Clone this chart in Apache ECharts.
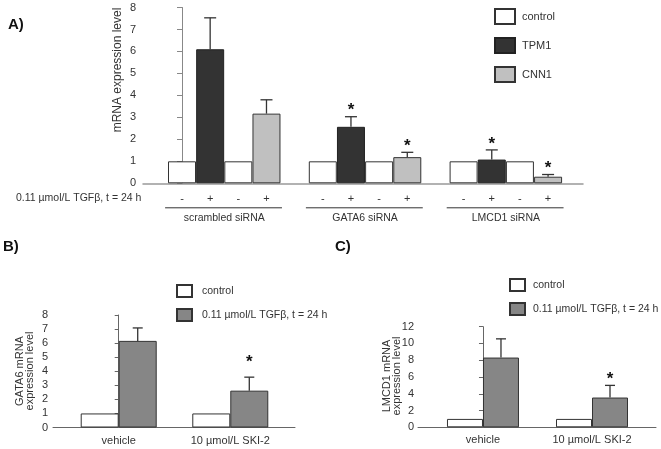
<!DOCTYPE html>
<html><head><meta charset="utf-8">
<script src="https://cdn.jsdelivr.net/npm/echarts@6/dist/echarts.min.js"></script>
<style>html,body{margin:0;padding:0;background:#fff}#c{width:661px;height:449px}</style>
</head><body><div id="c"></div>
<script>
// ---------- Panel A data ----------
const slotsControlA = [0, 2, 5, 7, 10, 12];
const controlA = [1, 1, 1, 1, 1, 1];
const slotsTpm1A = [1, 6, 11];
const tpm1A = [6.1, 2.57, 1.08];
const tpm1ErrTopA = [7.53, 3.03, 1.52];
const tpm1SigA = [0, 1, 1];
const slotsCnn1A = [3, 8, 13];
const cnn1A = [3.17, 1.19, 0.3];
const cnn1ErrTopA = [3.8, 1.41, 0.4];
const cnn1SigA = [0, 1, 1];
const tgfSlotsA = [0, 1, 2, 3, 5, 6, 7, 8, 10, 11, 12, 13];
const tgfLabelsA = ['-', '+', '-', '+', '-', '+', '-', '+', '-', '+', '-', '+'];
const groupCentersA = [1.5, 6.5, 11.5];
const groupNamesA = ['scrambled siRNA', 'GATA6 siRNA', 'LMCD1 siRNA'];
const groupSpansA = [[-0.6, 3.55], [4.4, 8.55], [9.4, 13.55]];
const legendA = ['control', 'TPM1', 'CNN1'];

// ---------- Panels B and C data ----------
const groupsBC = ['vehicle', '10 µmol/L SKI-2'];
const tgfName = '0.11 µmol/L TGFβ, t = 24 h';
const controlB = [1, 1];
const tgfB = [6.16, 2.62];
const tgfErrTopB = [7.08, 3.58];
const sigB = [0, 1];
const controlC = [1, 1];
const tgfC = [8.32, 3.55];
const tgfErrTopC = [10.55, 5.0];
const sigC = [0, 1];

const FONT = '"Liberation Sans", Arial, sans-serif';
const TXT = '#333';

function errRender(offsetPx, cap, starGap) {
  return function (params, api) {
    const x = api.value(0), v = api.value(1), e = api.value(2), sig = api.value(3);
    const p1 = api.coord([x, v]), p2 = api.coord([x, e]);
    const cx = p1[0] + offsetPx;
    const ch = [
      {type: 'line', shape: {x1: cx, y1: p1[1], x2: cx, y2: p2[1]}, style: {stroke: '#333', lineWidth: 1.3}},
      {type: 'line', shape: {x1: cx - cap / 2, y1: p2[1], x2: cx + cap / 2, y2: p2[1]}, style: {stroke: '#333', lineWidth: 1.3}}
    ];
    if (sig) {
      ch.push({type: 'text', x: cx, y: p2[1] - starGap + 4,
        style: {text: '*', fill: '#111', font: 'bold 17px ' + FONT, textAlign: 'center', textVerticalAlign: 'middle'}});
    }
    return {type: 'group', children: ch};
  };
}

const chart = echarts.init(document.getElementById('c'), null, {renderer: 'canvas'});

const option = {
  animation: false,
  textStyle: {fontFamily: FONT},
  grid: [
    {left: 143, right: 78, top: 7.5, bottom: 265.7},
    {left: 53, right: 366, top: 315, bottom: 21.5},
    {left: 418, right: 5, top: 326.7, bottom: 21.7}
  ],
  legend: [
    {data: legendA, orient: 'vertical', left: 494, top: 8, padding: 0, itemWidth: 20, itemHeight: 15, itemGap: 12,
     selectedMode: false, icon: 'rect', textStyle: {fontSize: 11, color: TXT, fontFamily: FONT, padding: [0, 0, 0, 2]}},
    {data: ['control', tgfName], orient: 'vertical', left: 176, top: 284, padding: 0, itemWidth: 15, itemHeight: 12, itemGap: 10,
     selectedMode: false, icon: 'rect', textStyle: {fontSize: 10.5, color: TXT, fontFamily: FONT, padding: [0, 0, 0, 5]}},
    {data: ['control', tgfName], orient: 'vertical', left: 509, top: 278, padding: 0, itemWidth: 15, itemHeight: 12, itemGap: 10,
     selectedMode: false, icon: 'rect', textStyle: {fontSize: 10.5, color: TXT, fontFamily: FONT, padding: [0, 0, 0, 3]}}
  ],
  xAxis: [
    {gridIndex: 0, type: 'value', min: -1.385, max: 14.24,
     axisLine: {show: true, lineStyle: {color: '#999', width: 1.5}}, axisTick: {show: false}, splitLine: {show: false},
     axisLabel: {customValues: tgfSlotsA, margin: 10, fontSize: 11, color: TXT,
       formatter: v => tgfLabelsA[tgfSlotsA.indexOf(Math.round(v))] || ''}},
    {gridIndex: 0, type: 'value', min: -1.385, max: 14.24, position: 'bottom',
     axisLine: {show: false}, axisTick: {show: false}, splitLine: {show: false},
     axisLabel: {customValues: groupCentersA, margin: 29, fontSize: 10.5, color: TXT,
       formatter: v => groupNamesA[groupCentersA.indexOf(v)] || ''}},
    {gridIndex: 1, type: 'value', min: -0.589, max: 1.58,
     axisLine: {show: true, lineStyle: {color: '#666', width: 1}}, axisTick: {show: false}, splitLine: {show: false},
     axisLabel: {customValues: [0, 1], margin: 8, fontSize: 11, color: TXT,
       formatter: v => groupsBC[Math.round(v)] || ''}},
    {gridIndex: 2, type: 'value', min: -0.596, max: 1.587,
     axisLine: {show: true, lineStyle: {color: '#666', width: 1}}, axisTick: {show: false}, splitLine: {show: false},
     axisLabel: {customValues: [0, 1], margin: 7, fontSize: 11, color: TXT,
       formatter: v => groupsBC[Math.round(v)] || ''}}
  ],
  yAxis: [
    {gridIndex: 0, type: 'value', min: 0, max: 8, interval: 1,
     axisLine: {show: true, lineStyle: {color: '#888'}}, axisTick: {show: true, length: 5, lineStyle: {color: '#888'}},
     splitLine: {show: false}, axisLabel: {margin: 7, fontSize: 11, color: TXT}},
    {gridIndex: 1, type: 'value', min: 0, max: 8, interval: 1,
     axisLine: {show: true, lineStyle: {color: '#666'}}, axisTick: {show: true, length: 4, lineStyle: {color: '#666'}},
     splitLine: {show: false}, axisLabel: {margin: 5, fontSize: 11, color: TXT}},
    {gridIndex: 2, type: 'value', min: 0, max: 12, interval: 2,
     axisLine: {show: true, lineStyle: {color: '#666'}}, axisTick: {show: true, length: 4, lineStyle: {color: '#666'}},
     splitLine: {show: false}, axisLabel: {margin: 4, fontSize: 11, color: TXT}}
  ],
  graphic: [
    {type: 'text', x: 8, y: 25, style: {text: 'A)', font: 'bold 15px ' + FONT, fill: '#111', textVerticalAlign: 'middle'}},
    {type: 'text', x: 3, y: 247, style: {text: 'B)', font: 'bold 15px ' + FONT, fill: '#111', textVerticalAlign: 'middle'}},
    {type: 'text', x: 335, y: 247, style: {text: 'C)', font: 'bold 15px ' + FONT, fill: '#111', textVerticalAlign: 'middle'}},
    {type: 'text', x: 16, y: 198, style: {text: tgfName, font: '10.5px ' + FONT, fill: TXT, textVerticalAlign: 'middle'}},
    {type: 'text', x: 118, y: 70, rotation: Math.PI / 2,
     style: {text: 'mRNA expression level', font: '12px ' + FONT, fill: TXT, textAlign: 'center', textVerticalAlign: 'middle'}},
    {type: 'text', x: 25, y: 371, rotation: Math.PI / 2,
     style: {text: 'GATA6 mRNA\nexpression level', font: '11px ' + FONT, lineHeight: 10, fill: TXT, textAlign: 'center', textVerticalAlign: 'middle'}},
    {type: 'text', x: 392, y: 376, rotation: Math.PI / 2,
     style: {text: 'LMCD1 mRNA\nexpression level', font: '11px ' + FONT, lineHeight: 10, fill: TXT, textAlign: 'center', textVerticalAlign: 'middle'}}
  ],
  series: [
    // Panel A bars
    {name: 'control', type: 'bar', xAxisIndex: 0, yAxisIndex: 0, barWidth: 28, barGap: '-100%',
     itemStyle: {color: '#fff', borderColor: '#333', borderWidth: 1},
     data: slotsControlA.map((s, i) => [s, controlA[i]])},
    {name: 'TPM1', type: 'bar', xAxisIndex: 0, yAxisIndex: 0, barWidth: 28, barGap: '-100%',
     itemStyle: {color: '#333333', borderColor: '#222', borderWidth: 1},
     data: slotsTpm1A.map((s, i) => [s, tpm1A[i]])},
    {name: 'CNN1', type: 'bar', xAxisIndex: 0, yAxisIndex: 0, barWidth: 28, barGap: '-100%',
     itemStyle: {color: '#c0c0c0', borderColor: '#333', borderWidth: 1},
     data: slotsCnn1A.map((s, i) => [s, cnn1A[i]])},
    {type: 'custom', xAxisIndex: 0, yAxisIndex: 0, renderItem: errRender(0, 12, 10), silent: true,
     data: slotsTpm1A.map((s, i) => [s, tpm1A[i], tpm1ErrTopA[i], tpm1SigA[i]])
       .concat(slotsCnn1A.map((s, i) => [s, cnn1A[i], cnn1ErrTopA[i], cnn1SigA[i]]))},
    // group underline
    {type: 'custom', xAxisIndex: 0, yAxisIndex: 0, silent: true,
     renderItem: function (params, api) {
       const a = api.coord([api.value(0), 0]), b = api.coord([api.value(1), 0]);
       return {type: 'line', shape: {x1: a[0], y1: a[1] + 24.5, x2: b[0], y2: a[1] + 24.5}, style: {stroke: '#333', lineWidth: 1}};
     },
     data: groupSpansA},
    // Panel B
    {name: 'control', type: 'bar', xAxisIndex: 2, yAxisIndex: 1, barWidth: 38, barGap: 0,
     itemStyle: {color: '#fff', borderColor: '#333', borderWidth: 1},
     data: controlB.map((v, i) => [i, v])},
    {name: tgfName, type: 'bar', xAxisIndex: 2, yAxisIndex: 1, barWidth: 38, barGap: 0,
     itemStyle: {color: '#868686', borderColor: '#333', borderWidth: 1},
     data: tgfB.map((v, i) => [i, v])},
    {type: 'custom', xAxisIndex: 2, yAxisIndex: 1, renderItem: errRender(19, 10, 19), silent: true,
     data: tgfB.map((v, i) => [i, v, tgfErrTopB[i], sigB[i]])},
    // Panel C
    {name: 'control', type: 'bar', xAxisIndex: 3, yAxisIndex: 2, barWidth: 36, barGap: 0,
     itemStyle: {color: '#fff', borderColor: '#333', borderWidth: 1},
     data: controlC.map((v, i) => [i, v])},
    {name: tgfName, type: 'bar', xAxisIndex: 3, yAxisIndex: 2, barWidth: 36, barGap: 0,
     itemStyle: {color: '#868686', borderColor: '#333', borderWidth: 1},
     data: tgfC.map((v, i) => [i, v])},
    {type: 'custom', xAxisIndex: 3, yAxisIndex: 2, renderItem: errRender(18, 10, 10), silent: true,
     data: tgfC.map((v, i) => [i, v, tgfErrTopC[i], sigC[i]])}
  ]
};
chart.setOption(option);
</script>
</body></html>
